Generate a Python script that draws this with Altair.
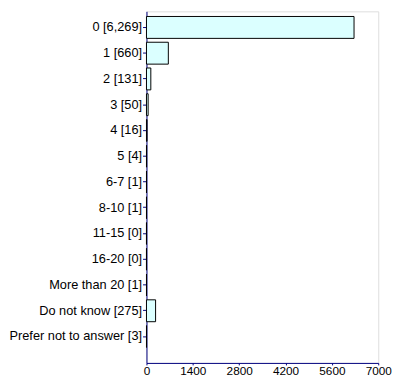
import altair as alt
import pandas as pd

categories = ["0 [6,269]", "1 [660]", "2 [131]", "3 [50]", "4 [16]", "5 [4]", "6-7 [1]",
              "8-10 [1]", "11-15 [0]", "16-20 [0]", "More than 20 [1]", "Do not know [275]",
              "Prefer not to answer [3]"]
values = [6269, 660, 131, 50, 16, 4, 1, 1, 0, 0, 1, 275, 3]
x_ticks = [0, 1400, 2800, 4200, 5600, 7000]

df = pd.DataFrame({"cat": categories, "val": values})

chart = alt.Chart(df).mark_bar(
    fill="#DBFFFF", stroke="#000000", strokeWidth=1
).encode(
    y=alt.Y("cat:N", sort=categories, title=None,
            scale=alt.Scale(paddingInner=0.15, paddingOuter=0.4, align=0.25),
            axis=alt.Axis(labelFont="Liberation Sans", labelFontSize=13, labelColor="#000000",
                          domainColor="#000080", tickColor="#000080", tickSize=4,
                          labelPadding=1, labelLimit=300)),
    x=alt.X("val:Q", title=None,
            scale=alt.Scale(domain=[0, 7000], nice=False),
            axis=alt.Axis(values=x_ticks, grid=False, format="d", labelFont="Liberation Sans",
                          labelFontSize=12, labelColor="#000000", domainColor="#000080",
                          tickColor="#000080", tickSize=2, labelPadding=1, labelFlush=False)),
).properties(
    width=236, height=358
).configure_view(stroke=None).configure(background="#FFFFFF", padding=0)

chart.save("out.html", embed_options={"renderer": "svg", "actions": False})
